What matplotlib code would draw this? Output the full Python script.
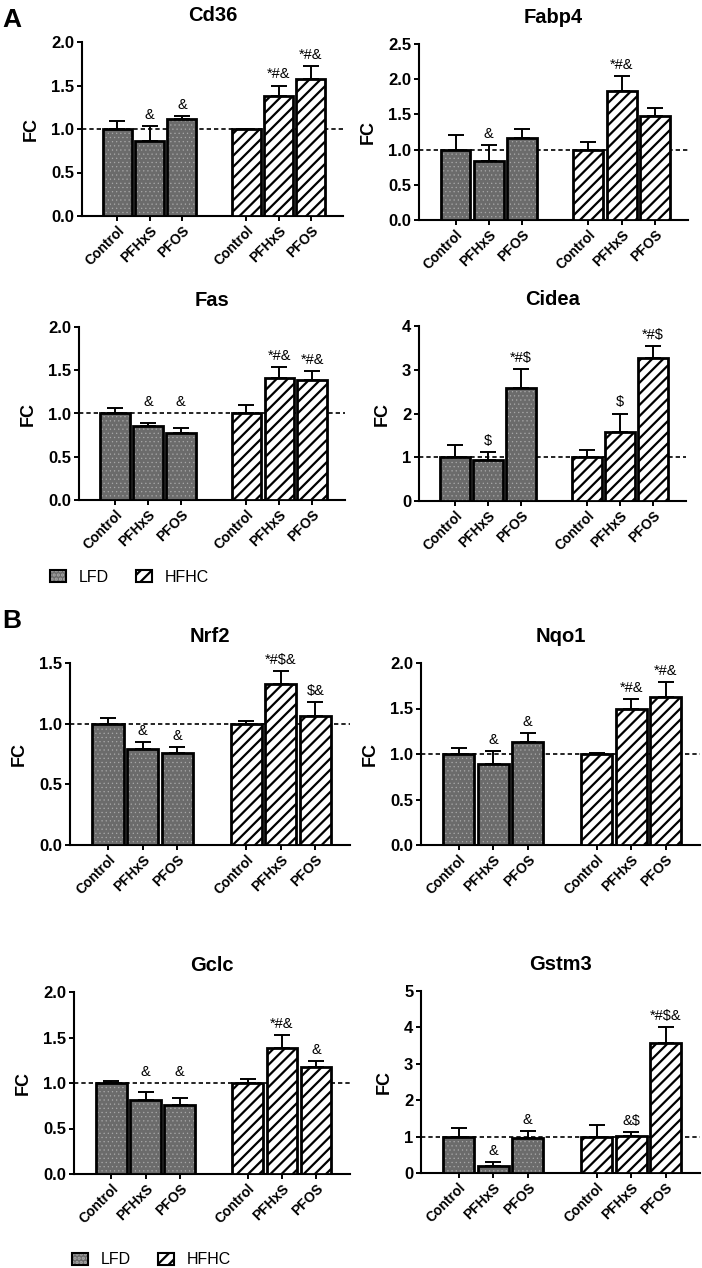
import numpy as np
import matplotlib
matplotlib.use('Agg')
import matplotlib.pyplot as plt
from matplotlib.patches import Patch
from matplotlib.legend_handler import HandlerTuple
from matplotlib.ticker import FormatStrFormatter, MultipleLocator

plt.rcParams['font.family'] = ['Liberation Sans', 'DejaVu Sans']
plt.rcParams['font.weight'] = 'bold'
plt.rcParams['axes.titleweight'] = 'bold'
plt.rcParams['axes.labelweight'] = 'bold'
plt.rcParams['hatch.linewidth'] = 1.6

# -----------------------------------------------------
# data (LFD: Control, PFHxS, PFOS | HFHC: Control, PFHxS, PFOS)
# -----------------------------------------------------
groups = ['Control', 'PFHxS', 'PFOS', 'Control', 'PFHxS', 'PFOS']
diets = ['LFD', 'HFHC']

cd36_mean = [1.00, 0.86, 1.11, 1.00, 1.38, 1.58]
cd36_err = [0.09, 0.17, 0.04, 0.005, 0.12, 0.14]
cd36_sig = ['', '&', '&', '', '*#&', '*#&']

fabp4_mean = [1.00, 0.845, 1.16, 1.00, 1.83, 1.48]
fabp4_err = [0.21, 0.225, 0.13, 0.11, 0.21, 0.11]
fabp4_sig = ['', '&', '', '', '*#&', '']

fas_mean = [1.00, 0.86, 0.77, 1.00, 1.41, 1.39]
fas_err = [0.06, 0.03, 0.06, 0.10, 0.125, 0.10]
fas_sig = ['', '&', '&', '', '*#&', '*#&']

cidea_mean = [1.00, 0.93, 2.58, 1.00, 1.57, 3.27]
cidea_err = [0.28, 0.18, 0.44, 0.16, 0.43, 0.27]
cidea_sig = ['', '$', '*#$', '', '$', '*#$']

nrf2_mean = [1.00, 0.79, 0.755, 1.00, 1.327, 1.06]
nrf2_err = [0.05, 0.055, 0.05, 0.02, 0.107, 0.12]
nrf2_sig = ['', '&', '&', '', '*#$&', '$&']

nqo1_mean = [1.00, 0.895, 1.134, 1.00, 1.49, 1.63]
nqo1_err = [0.064, 0.135, 0.10, 0.01, 0.11, 0.16]
nqo1_sig = ['', '&', '&', '', '*#&', '*#&']

gclc_mean = [1.00, 0.81, 0.757, 1.00, 1.39, 1.177]
gclc_err = [0.024, 0.09, 0.073, 0.046, 0.14, 0.066]
gclc_sig = ['', '&', '&', '', '*#&', '&']

gstm3_mean = [1.00, 0.20, 0.96, 1.00, 1.02, 3.57]
gstm3_err = [0.24, 0.11, 0.19, 0.33, 0.11, 0.43]
gstm3_sig = ['', '&', '&', '', '&$', '*#$&']

# -----------------------------------------------------
W, H = 702, 1268
fig = plt.figure(figsize=(W / 100, H / 100), dpi=100)

def rect(l, t, r, b):
    return [l / W, 1 - b / H, (r - l) / W, (b - t) / H]

xpos = np.array([0, 1, 2, 4, 5, 6])
GRAY = '#6b6b6b'
DOTS = '#a9a9a9'

def thin_dots(artist):
    # per-artist hatch width only exists in newer matplotlib
    try:
        artist.set_hatch_linewidth(0.4)
    except AttributeError:
        pass

def panel(box, title, mean, err, sig, ymax, step, fmt, sig_over_ref=False):
    ax = fig.add_axes(rect(*box))
    mean = np.array(mean)
    err = np.array(err)
    ax.axhline(1.0, color='k', lw=1.2, ls=(0, (2.6, 1.8)), zorder=1)
    ax.errorbar(xpos, mean, yerr=[np.zeros(6), err], fmt='none', ecolor='k',
                elinewidth=1.4, capsize=5.5, capthick=1.4, zorder=2)
    lfd = ax.bar(xpos[:3], mean[:3], width=0.9, color=GRAY, edgecolor=DOTS,
                 hatch='....', lw=0, zorder=3)
    for b in lfd:
        thin_dots(b)
    ax.bar(xpos[3:], mean[3:], width=0.9, color='white', edgecolor='k',
           hatch='///', lw=0, zorder=3)
    ax.bar(xpos, mean, width=0.9, fill=False, edgecolor='k', lw=2.0, zorder=4)
    for x, m, e, s in zip(xpos, mean, err, sig):
        if not s:
            continue
        y = m + e
        if sig_over_ref:
            y = max(y, 1.0)
        ax.annotate(s, (x, y), xytext=(0, 3), textcoords='offset points',
                    ha='center', va='bottom', fontsize=10.5, fontweight='normal')
    ax.set_xlim(-1.1, 7.0)
    ax.set_ylim(0, ymax)
    ax.yaxis.set_major_locator(MultipleLocator(step))
    ax.yaxis.set_major_formatter(FormatStrFormatter(fmt))
    ax.set_xticks(xpos)
    ax.set_xticklabels(groups, rotation=45, ha='right', rotation_mode='anchor')
    ax.tick_params(direction='out', length=3.5, width=1.4, pad=2)
    ax.tick_params(axis='x', labelsize=10)
    ax.tick_params(axis='y', labelsize=12)
    for side in ['top', 'right']:
        ax.spines[side].set_visible(False)
    for side in ['left', 'bottom']:
        ax.spines[side].set_linewidth(1.5)
    ax.set_title(title, fontsize=14.5, pad=15)
    ax.set_ylabel('FC', fontsize=13, labelpad=8)
    return ax

panel((82, 42, 343, 216), 'Cd36', cd36_mean, cd36_err, cd36_sig, 2.0, 0.5, '%.1f')
panel((419, 44, 688, 220), 'Fabp4', fabp4_mean, fabp4_err, fabp4_sig, 2.5, 0.5, '%.1f')
panel((79, 327, 345, 500), 'Fas', fas_mean, fas_err, fas_sig, 2.0, 0.5, '%.1f', True)
panel((419, 326, 686, 501), 'Cidea', cidea_mean, cidea_err, cidea_sig, 4, 1, '%d')
panel((70, 663, 350, 845), 'Nrf2', nrf2_mean, nrf2_err, nrf2_sig, 1.5, 0.5, '%.1f')
panel((421, 663, 700, 845), 'Nqo1', nqo1_mean, nqo1_err, nqo1_sig, 2.0, 0.5, '%.1f')
panel((74, 992, 350, 1174), 'Gclc', gclc_mean, gclc_err, gclc_sig, 2.0, 0.5, '%.1f', True)
panel((421, 991, 700, 1173), 'Gstm3', gstm3_mean, gstm3_err, gstm3_sig, 5, 1, '%d')

fig.text(2 / W, 1 - 20 / H, 'A', fontsize=19, va='center', ha='left')
fig.text(2 / W, 1 - 621 / H, 'B', fontsize=19, va='center', ha='left')

# legends
def legend_at(x, y):
    lf = Patch(facecolor=GRAY, edgecolor=DOTS, hatch='....', lw=0)
    thin_dots(lf)
    lo = Patch(facecolor='none', edgecolor='k', lw=1.5)
    hf = Patch(facecolor='white', edgecolor='k', hatch='///', lw=0)
    ho = Patch(facecolor='none', edgecolor='k', lw=1.5)
    fig.legend(handles=[(lf, lo), (hf, ho)], labels=diets,
               handler_map={tuple: HandlerTuple(ndivide=1)},
               loc='center left', bbox_to_anchor=(x / W, 1 - y / H), ncol=2,
               frameon=False, prop={'weight': 'normal', 'size': 11.5},
               handlelength=1.0, handleheight=0.7, handletextpad=0.8,
               columnspacing=1.7, borderpad=0, borderaxespad=0)

legend_at(50, 577)
legend_at(72, 1260)

fig.savefig('out.png', dpi=100)
